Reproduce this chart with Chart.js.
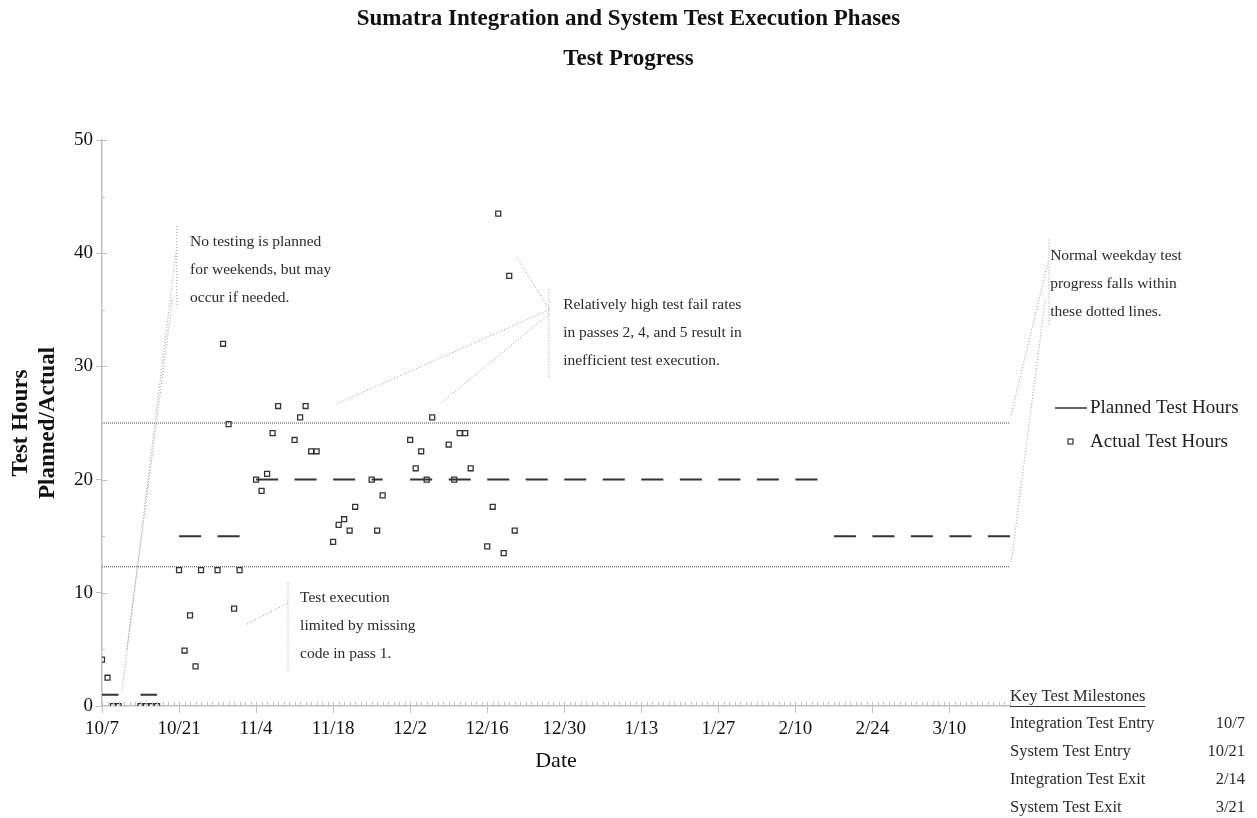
<!DOCTYPE html>
<html>
<head>
<meta charset="utf-8">
<script src="https://cdn.jsdelivr.net/npm/chart.js@4/dist/chart.umd.min.js"></script>
<style>
  html, body { margin: 0; padding: 0; background: #fff; }
  #wrap { width: 1257px; height: 818px; }
</style>
</head>
<body>
<div id="wrap"><canvas id="progressChart"></canvas></div>
<script>
// dates are m/d, Oct-Dec 2002 and Jan-Mar 2003
const titleLines = ['Sumatra Integration and System Test Execution Phases', 'Test Progress'];
const tickLabels = ['10/7', '10/21', '11/4', '11/18', '12/2', '12/16', '12/30', '1/13', '1/27', '2/10', '2/24', '3/10'];
const lastDate = '3/21';

const actualDates = [
  '10/7', '10/8', '10/9', '10/10', '10/14', '10/15', '10/16', '10/17',
  '10/21', '10/22', '10/23', '10/24', '10/25', '10/28', '10/29', '10/30', '10/31', '11/1',
  '11/4', '11/5', '11/6', '11/7', '11/8', '11/11', '11/12', '11/13', '11/14', '11/15',
  '11/18', '11/19', '11/20', '11/21', '11/22', '11/25', '11/26', '11/27',
  '12/2', '12/3', '12/4', '12/5', '12/6', '12/9', '12/10', '12/11', '12/12', '12/13',
  '12/16', '12/17', '12/18', '12/19', '12/20', '12/21'
];
const actualHours = [
  4.1, 2.5, 0, 0, 0, 0, 0, 0,
  12, 4.9, 8, 3.5, 12, 12, 32, 24.9, 8.6, 12,
  20, 19, 20.5, 24.1, 26.5, 23.5, 25.5, 26.5, 22.5, 22.5,
  14.5, 16, 16.5, 15.5, 17.6, 20, 15.5, 18.6,
  23.5, 21, 22.5, 20, 25.5, 23.1, 20, 24.1, 24.1, 21,
  14.1, 17.6, 43.5, 13.5, 38, 15.5
];

const plannedStart = [
  '10/7', '10/14', '10/21', '10/28', '11/4', '11/11', '11/18', '11/25',
  '12/2', '12/9', '12/16', '12/23', '12/30', '1/6', '1/13', '1/20', '1/27',
  '2/3', '2/10', '2/17', '2/24', '3/3', '3/10', '3/17'
];
const plannedEnd = [
  '10/10', '10/17', '10/25', '11/1', '11/8', '11/15', '11/22', '11/27',
  '12/6', '12/13', '12/20', '12/27', '1/3', '1/10', '1/17', '1/24', '1/31',
  '2/7', '2/14', '2/21', '2/28', '3/7', '3/14', '3/21'
];
const plannedHours = [
  1, 1, 15, 15, 20, 20, 20, 20,
  20, 20, 20, 20, 20, 20, 20, 20, 20,
  20, 20, 15, 15, 15, 15, 15
];

const bandUpper = 25;
const bandLower = 12.3;

const milestoneNames = ['Integration Test Entry', 'System Test Entry', 'Integration Test Exit', 'System Test Exit'];
const milestoneDates = ['10/7', '10/21', '2/14', '3/21'];

function dayOf(md) {
  const [m, d] = md.split('/').map(Number);
  const year = m >= 7 ? 2002 : 2003;
  return Math.round((Date.UTC(year, m - 1, d) - Date.UTC(2002, 9, 7)) / 86400000);
}
const maxDay = dayOf(lastDate);

// callouts, in chart units (day, hours)
const callouts = [
  {
    text: ['No testing is planned', 'for weekends, but may', 'occur if needed.'],
    at: [16, 41.0], bar: [13.6, 42.4, 35.2],
    lines: [[13.5, 40.3, 3.6, 1.2], [12.8, 35.9, 4.5, 4.9]]
  },
  {
    text: ['Test execution', 'limited by missing', 'code in pass 1.'],
    at: [36, 9.55], bar: [33.8, 10.9, 3.0],
    lines: [[33.8, 9.1, 26.2, 7.2]]
  },
  {
    text: ['Relatively high test fail rates', 'in passes 2, 4, and 5 result in', 'inefficient test execution.'],
    at: [83.8, 35.4], bar: [81.2, 36.8, 28.9],
    lines: [[81.2, 35.1, 75.2, 39.8], [81.2, 35.0, 42.7, 26.7], [81.2, 34.6, 61.4, 26.7]]
  },
  {
    text: ['Normal weekday test', 'progress falls within', 'these dotted lines.'],
    at: [172.3, 39.8], bar: [172.1, 41.2, 33.5],
    lines: [[171.9, 39.2, 165.2, 25.7], [171.4, 35.9, 165.2, 12.6]]
  }
];

const serif = '"Liberation Serif", "Times New Roman", serif';

let plannedPoints = [];
for (let i = 0; i < plannedHours.length; i++) {
  plannedPoints.push({ x: dayOf(plannedStart[i]), y: plannedHours[i] });
  plannedPoints.push({ x: dayOf(plannedEnd[i]), y: plannedHours[i] });
  plannedPoints.push({ x: dayOf(plannedEnd[i]) + 0.5, y: null });
}
let actualPoints = actualDates.map((d, i) => ({ x: dayOf(d), y: actualHours[i] }));

const extras = {
  id: 'extras',
  afterDraw(chart) {
    const ctx = chart.ctx;
    const xs = chart.scales.x, ys = chart.scales.y;
    const area = chart.chartArea;
    ctx.save();

    // title
    ctx.fillStyle = '#111';
    ctx.font = 'bold 23px ' + serif;
    ctx.textAlign = 'center';
    ctx.textBaseline = 'middle';
    titleLines.forEach((t, i) => ctx.fillText(t, chart.width / 2, 19 + i * 40));

    // minor ticks
    ctx.strokeStyle = '#c0c0c0';
    ctx.lineWidth = 1;
    ctx.beginPath();
    for (let d = 0; d <= maxDay; d++) {
      const px = Math.round(xs.getPixelForValue(d)) + 0.5;
      ctx.moveTo(px, area.bottom - 4);
      ctx.lineTo(px, area.bottom);
    }
    for (let v = 5; v <= 50; v += 5) {
      const py = Math.round(ys.getPixelForValue(v)) + 0.5;
      ctx.moveTo(area.left, py);
      ctx.lineTo(area.left + (v % 10 === 0 ? 5 : 3), py);
    }
    ctx.stroke();

    // callouts
    ctx.font = '15.5px ' + serif;
    ctx.textAlign = 'left';
    callouts.forEach(c => {
      ctx.strokeStyle = '#9a9a9a';
      ctx.setLineDash([1, 2]);
      ctx.beginPath();
      const bx = xs.getPixelForValue(c.bar[0]);
      ctx.moveTo(bx, ys.getPixelForValue(c.bar[1]));
      ctx.lineTo(bx, ys.getPixelForValue(c.bar[2]));
      c.lines.forEach(l => {
        ctx.moveTo(xs.getPixelForValue(l[0]), ys.getPixelForValue(l[1]));
        ctx.lineTo(xs.getPixelForValue(l[2]), ys.getPixelForValue(l[3]));
      });
      ctx.stroke();
      ctx.setLineDash([]);
      ctx.fillStyle = '#2a2a2a';
      const tx = xs.getPixelForValue(c.at[0]);
      const ty = ys.getPixelForValue(c.at[1]);
      c.text.forEach((t, i) => ctx.fillText(t, tx, ty + i * 28));
    });

    // legend
    const lx = area.right + 45;
    ctx.strokeStyle = '#333';
    ctx.lineWidth = 1.5;
    ctx.beginPath();
    ctx.moveTo(lx, 408);
    ctx.lineTo(lx + 32, 408);
    ctx.stroke();
    ctx.lineWidth = 1.2;
    ctx.strokeRect(lx + 13, 439, 5, 5);
    ctx.fillStyle = '#222';
    ctx.font = '19px ' + serif;
    ctx.fillText(chart.data.datasets[2].label, lx + 35, 408);
    ctx.fillText(chart.data.datasets[3].label, lx + 35, 442);

    // milestones
    const mx = area.right;
    ctx.font = '16.5px ' + serif;
    ctx.fillStyle = '#2a2a2a';
    ctx.fillText('Key Test Milestones', mx, 697);
    const w = ctx.measureText('Key Test Milestones').width;
    ctx.strokeStyle = '#333';
    ctx.lineWidth = 1;
    ctx.beginPath();
    ctx.moveTo(mx, 706.5);
    ctx.lineTo(mx + w, 706.5);
    ctx.stroke();
    milestoneNames.forEach((n, i) => {
      const y = 724 + i * 28;
      ctx.textAlign = 'left';
      ctx.fillText(n, mx, y);
      ctx.textAlign = 'right';
      ctx.fillText(milestoneDates[i], 1245, y);
    });
    ctx.restore();
  }
};

const ctx = document.getElementById('progressChart').getContext('2d');
const chart = new Chart(ctx, {
  type: 'scatter',
  data: {
    datasets: [
      {
        label: 'Upper',
        data: [{ x: 0, y: bandUpper }, { x: maxDay, y: bandUpper }],
        showLine: true, borderColor: '#444', borderWidth: 1, borderDash: [1, 1], pointRadius: 0
      },
      {
        label: 'Lower',
        data: [{ x: 0, y: bandLower }, { x: maxDay, y: bandLower }],
        showLine: true, borderColor: '#444', borderWidth: 1, borderDash: [1, 1], pointRadius: 0
      },
      {
        label: 'Planned Test Hours',
        data: plannedPoints,
        showLine: true, spanGaps: false, borderColor: '#333', borderWidth: 2, pointRadius: 0
      },
      {
        label: 'Actual Test Hours',
        data: actualPoints,
        pointStyle: 'rect', pointRadius: 3.5, borderColor: '#333', borderWidth: 1.3,
        backgroundColor: '#fff'
      }
    ]
  },
  options: {
    responsive: true,
    maintainAspectRatio: false,
    animation: false,
    layout: { padding: { top: 140, right: 247, bottom: 0, left: 0 } },
    plugins: {
      legend: { display: false },
      tooltip: { enabled: false },
      title: { display: false }
    },
    scales: {
      x: {
        type: 'linear',
        min: 0,
        max: maxDay,
        afterFit: (scale) => { scale.height = 112; },
        afterBuildTicks: (scale) => { scale.ticks = scale.ticks.filter(t => t.value % 14 === 0); },
        ticks: {
          stepSize: 14,
          autoSkip: false,
          maxRotation: 0,
          color: '#111',
          font: { family: serif, size: 19 },
          padding: 5,
          callback: (v) => tickLabels[v / 14] ?? ''
        },
        grid: { drawOnChartArea: false, color: '#c0c0c0', tickLength: 7 },
        border: { color: '#c0c0c0', width: 1.5 },
        title: {
          display: true,
          text: 'Date',
          color: '#111',
          font: { family: serif, size: 22 },
          padding: { top: 0, bottom: 44 }
        }
      },
      y: {
        min: 0,
        max: 50,
        afterFit: (scale) => { scale.width = 102; },
        ticks: {
          stepSize: 10,
          color: '#111',
          font: { family: serif, size: 19 },
          padding: 3
        },
        grid: { drawOnChartArea: false, color: '#c0c0c0', tickLength: 6 },
        border: { color: '#c0c0c0', width: 1.5 },
        title: {
          display: true,
          text: ['Test Hours', 'Planned/Actual'],
          color: '#111',
          font: { family: serif, size: 23, weight: 'bold', lineHeight: 1.2 },
          padding: { top: 7, bottom: 0 }
        }
      }
    }
  },
  plugins: [extras]
});
</script>
</body>
</html>
